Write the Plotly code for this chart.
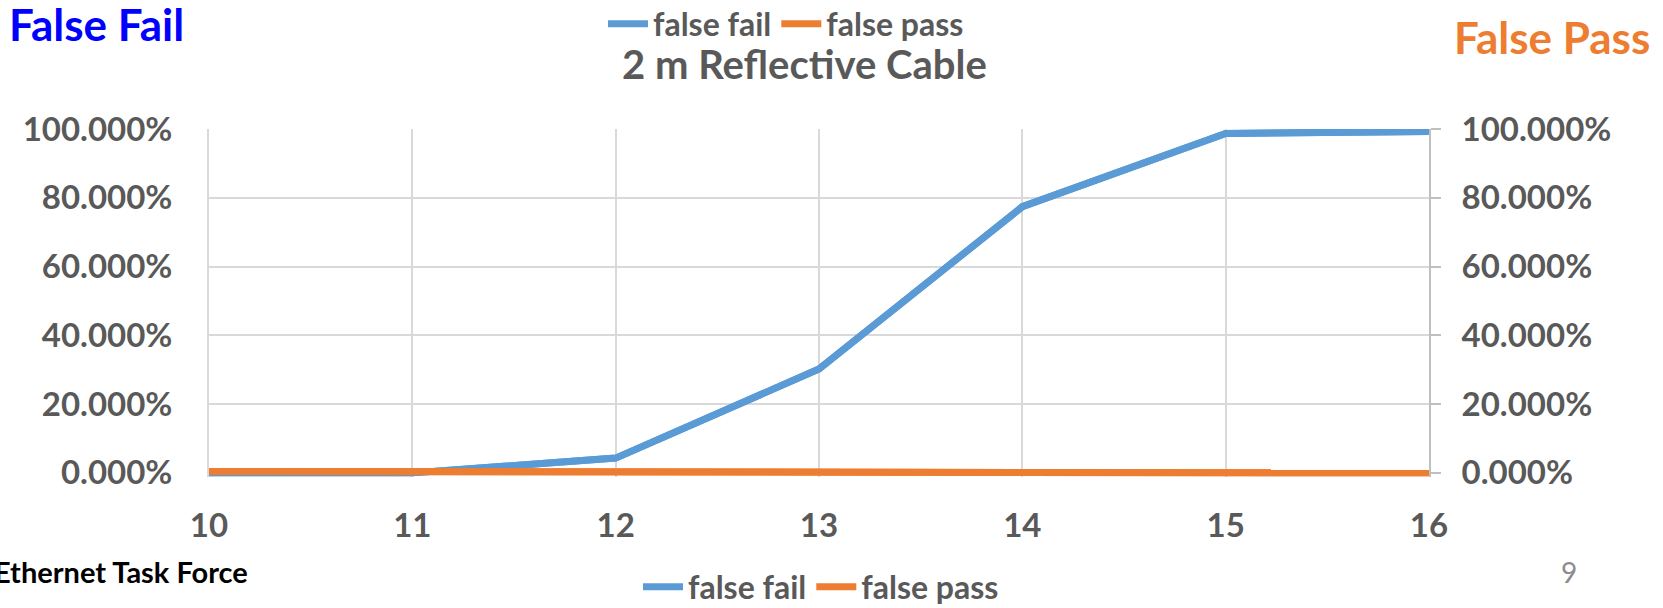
import plotly.graph_objects as go

# ---- data ----
x_vals = [10, 11, 12, 13, 14, 15, 16]
false_fail = [0.0, 0.0, 0.043, 0.302, 0.774, 0.987, 0.993]
false_pass = [0.004, 0.003, 0.002, 0.001, 0.0, 0.0, 0.0]
y_ticks = [0, 0.2, 0.4, 0.6, 0.8, 1.0]
title_text = "2 m Reflective Cable"
series_names = ["false fail", "false pass"]

BLUE = "#5B9BD5"
ORANGE = "#ED7D31"
GRAY = "#595959"
FONT = "Lato"

W, H = 1663, 608
L, R, T = 209, 1429, 129
Y0 = 473                 # pixel of 0 %
YMIN = -0.012            # small pad so the 0 % line is not clipped
B = Y0 + (Y0 - T) * (-YMIN)


def px(xp):
    return (xp - L) / (R - L)


def py(yp):
    return (B - yp) / (B - T)


fig = go.Figure()
for legend in ["legend", "legend2"]:
    fig.add_trace(go.Scatter(x=x_vals, y=false_fail, name=series_names[0], mode="lines",
                             line=dict(color=BLUE, width=7), cliponaxis=False,
                             legend=legend, yaxis="y"))
    fig.add_trace(go.Scatter(x=x_vals, y=false_pass, name=series_names[1], mode="lines",
                             line=dict(color=ORANGE, width=7), cliponaxis=False,
                             legend=legend, yaxis="y2"))

axis_font = dict(family=FONT, size=33, color=GRAY, weight="bold")
leg_font = dict(family=FONT, size=32, color=GRAY, weight="bold")

fig.update_layout(
    width=W, height=H,
    margin=dict(l=L, r=W - R, t=T, b=H - B, autoexpand=False),
    paper_bgcolor="white", plot_bgcolor="white",
    font=dict(family=FONT, color=GRAY),
    showlegend=True,
    xaxis=dict(range=[10, 16], tickvals=x_vals, showgrid=True, gridcolor="#D9D9D9", gridwidth=1.5,
               zeroline=False, showline=False, tickfont=axis_font, ticks="", ticklabelstandoff=26),
    yaxis=dict(range=[YMIN, 1], tickvals=y_ticks, tickformat=".3%", showgrid=True, gridcolor="#D9D9D9",
               gridwidth=1.5, zeroline=False, showline=True, linecolor="#D9D9D9", linewidth=2,
               tickfont=axis_font, ticks="", ticklabelstandoff=28),
    yaxis2=dict(range=[YMIN, 1], tickvals=y_ticks, tickformat=".3%", overlaying="y", side="right",
                showgrid=False, zeroline=False, showline=True, linecolor="#BFBFBF", linewidth=2,
                ticks="outside", ticklen=10, tickcolor="#BFBFBF", tickwidth=1.5,
                tickfont=axis_font, ticklabelstandoff=14),
    legend=dict(orientation="h", x=px(786), y=py(24), xanchor="center", yanchor="middle",
                font=leg_font, bgcolor="rgba(0,0,0,0)", itemwidth=40, tracegroupgap=0),
    legend2=dict(orientation="h", x=px(821), y=py(587), xanchor="center", yanchor="middle",
                 font=leg_font, bgcolor="rgba(0,0,0,0)", itemwidth=40, tracegroupgap=0),
    annotations=[
        dict(text=title_text, x=px(804), y=py(64), xref="paper", yref="paper",
             xanchor="center", yanchor="middle", showarrow=False,
             font=dict(family=FONT, size=40, color=GRAY, weight="bold")),
        dict(text="False Fail", x=px(7), y=py(24), xref="paper", yref="paper",
             xanchor="left", yanchor="middle", showarrow=False,
             font=dict(family=FONT, size=44, color="#0000FF", weight="bold")),
        dict(text="False Pass", x=px(1452), y=py(37), xref="paper", yref="paper",
             xanchor="left", yanchor="middle", showarrow=False,
             font=dict(family=FONT, size=44, color=ORANGE, weight="bold")),
        dict(text="Ethernet Task Force", x=px(250), y=py(572), xref="paper", yref="paper",
             xanchor="right", yanchor="middle", showarrow=False,
             font=dict(family=FONT, size=29, color="black", weight="bold")),
        dict(text="9", x=px(1569), y=py(572), xref="paper", yref="paper",
             xanchor="center", yanchor="middle", showarrow=False,
             font=dict(family=FONT, size=28, color="#8C8C8C")),
    ],
)

fig.write_html("out.html", config={"displayModeBar": False},
               post_script="document.body.style.margin='0';document.body.style.overflow='hidden';")
